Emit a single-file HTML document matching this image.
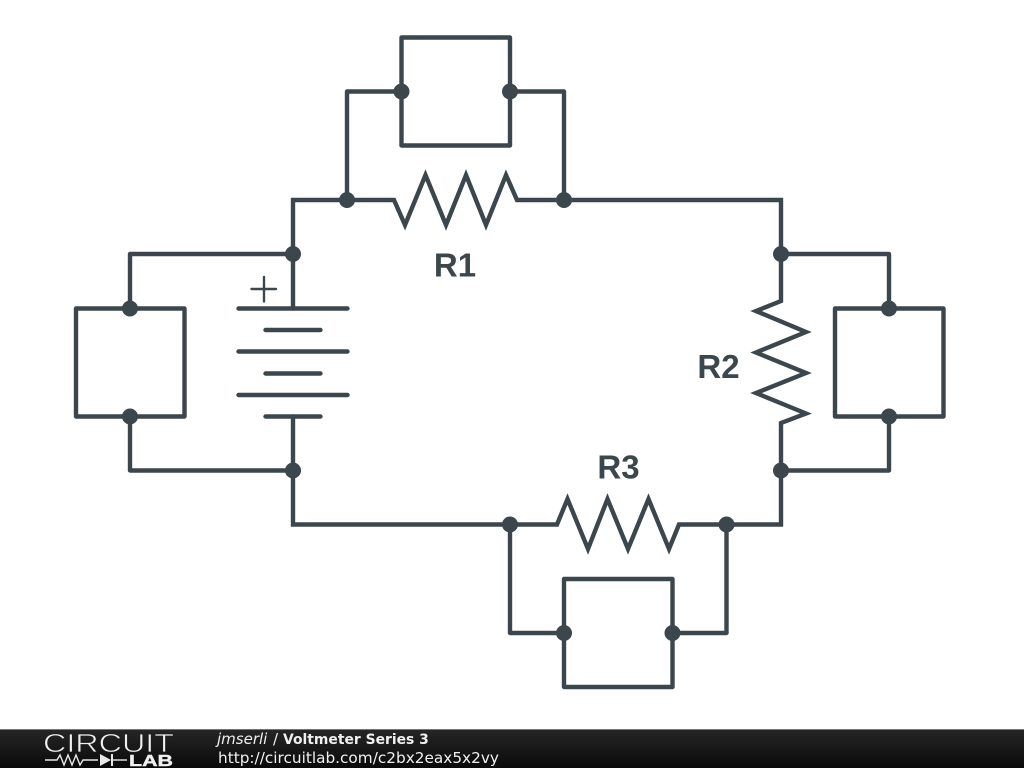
<!DOCTYPE html>
<html>
<head>
<meta charset="utf-8">
<style>
html,body{margin:0;padding:0;background:#fff;width:1024px;height:768px;overflow:hidden}
svg{display:block;position:absolute;left:0;top:0}
</style>
</head>
<body>
<svg width="1024" height="768" viewBox="0 0 1024 768" xmlns="http://www.w3.org/2000/svg">
<defs>
<linearGradient id="g" x1="0" y1="0" x2="0" y2="1">
<stop offset="0" stop-color="#262626"/>
<stop offset="0.5" stop-color="#181818"/>
<stop offset="1" stop-color="#0a0a0a"/>
</linearGradient>
</defs>
<rect width="1024" height="768" fill="#fff"/>
<g fill="none" stroke="#3c474d" stroke-width="4.4" stroke-linejoin="miter" stroke-miterlimit="10" stroke-linecap="round">
<!-- main loop -->
<polyline points="293,308.5 293,200 394,200 405,225 425.5,175 446,225 466,175 486,225 506,175 517,200 781,200 781,301 756,311 806,332 756,352.5 806,373 756,393 806,413.5 781,423 781,524.5 679,524.5 669,549 648.5,499 628,549 607.5,499 588,549 567.5,499 557,524.5 293,524.5 293,416.5"/>
<!-- battery -->
<line x1="238.5" y1="308.5" x2="347.5" y2="308.5"/>
<line x1="265.5" y1="330" x2="320.5" y2="330"/>
<line x1="238.5" y1="351.5" x2="347.5" y2="351.5"/>
<line x1="265.5" y1="373.5" x2="320.5" y2="373.5"/>
<line x1="238.5" y1="395" x2="347.5" y2="395"/>
<line x1="265.5" y1="416.5" x2="320.5" y2="416.5"/>
<!-- top meter -->
<polyline stroke-linejoin="round" points="347,200 347,91.5 401.5,91.5"/>
<polyline stroke-linejoin="round" points="510,91.5 564,91.5 564,200"/>
<rect x="401.5" y="37.5" width="108.5" height="108" stroke-linejoin="round"/>
<!-- left meter -->
<polyline stroke-linejoin="round" points="293,254 130,254 130,308.5"/>
<polyline stroke-linejoin="round" points="130,416.5 130,470.5 293,470.5"/>
<rect x="76" y="308.5" width="108.5" height="108" stroke-linejoin="round"/>
<!-- right meter -->
<polyline stroke-linejoin="round" points="781,254 889,254 889,308.5"/>
<polyline stroke-linejoin="round" points="889,416.5 889,470.5 781,470.5"/>
<rect x="835" y="308.5" width="108.5" height="108" stroke-linejoin="round"/>
<!-- bottom meter -->
<polyline stroke-linejoin="round" points="510,524.5 510,633 564,633"/>
<polyline stroke-linejoin="round" points="672.5,633 726.5,633 726.5,524.5"/>
<rect x="564" y="579" width="108.5" height="108" stroke-linejoin="round"/>
</g>
<!-- plus -->
<g stroke="#3c474d" stroke-width="2.4" stroke-linecap="round">
<line x1="251.5" y1="289" x2="276" y2="289"/>
<line x1="264" y1="277" x2="264" y2="301.5"/>
</g>
<!-- nodes -->
<g fill="#3c474d">
<circle cx="347" cy="200" r="8"/>
<circle cx="564" cy="200" r="8"/>
<circle cx="401.5" cy="91.5" r="8"/>
<circle cx="510" cy="91.5" r="8"/>
<circle cx="293" cy="254" r="8"/>
<circle cx="293" cy="470.5" r="8"/>
<circle cx="130" cy="308.5" r="8"/>
<circle cx="130" cy="416.5" r="8"/>
<circle cx="781" cy="254" r="8"/>
<circle cx="781" cy="470.5" r="8"/>
<circle cx="889" cy="308.5" r="8"/>
<circle cx="889" cy="416.5" r="8"/>
<circle cx="510" cy="524.5" r="8"/>
<circle cx="726.5" cy="524.5" r="8"/>
<circle cx="564" cy="633" r="8"/>
<circle cx="672.5" cy="633" r="8"/>
</g>
<!-- labels -->
<g font-family="'Liberation Sans',sans-serif" font-weight="bold" font-size="33" fill="#3c474d" text-anchor="middle">
<text x="455" y="276.5">R1</text>
<text x="718.5" y="378">R2</text>
<text x="618.5" y="478.5">R3</text>
</g>
<!-- footer -->
<rect x="0" y="729" width="1024" height="39" fill="url(#g)"/>
<rect x="0" y="729" width="1024" height="1" fill="#777"/>
<text x="43" y="752" font-family="'Liberation Sans',sans-serif" font-size="26" fill="#f0f0f0" stroke="#1c1c1c" stroke-width="0.7" textLength="131" lengthAdjust="spacingAndGlyphs">CIRCUIT</text>
<g fill="none" stroke="#e8e8e8" stroke-width="1.4">
<polyline points="45,760 57,760 60,755 64,765 68,755 72,765 76,755 80,765 83,760 98,760"/>
<line x1="113" y1="760" x2="127" y2="760"/>
<line x1="112" y1="754" x2="112" y2="766" stroke-width="2"/>
</g>
<polygon points="100,754 111,760 100,766" fill="#e8e8e8"/>
<text x="129" y="766" font-family="'Liberation Sans',sans-serif" font-weight="bold" font-size="15.5" fill="#f0f0f0" stroke="#f0f0f0" stroke-width="0.4" textLength="44" lengthAdjust="spacingAndGlyphs">LAB</text>
<g font-family="'DejaVu Sans',sans-serif" fill="#f0f0f0">
<text x="217" y="744" font-size="15" font-style="italic">jmserli</text>
<text x="273" y="744" font-size="15">/</text>
<text x="283" y="744" font-size="13.9" font-weight="bold">Voltmeter Series 3</text>
<text x="218" y="763" font-size="15.3">http://circuitlab.com/c2bx2eax5x2vy</text>
</g>
</svg>
</body>
</html>
